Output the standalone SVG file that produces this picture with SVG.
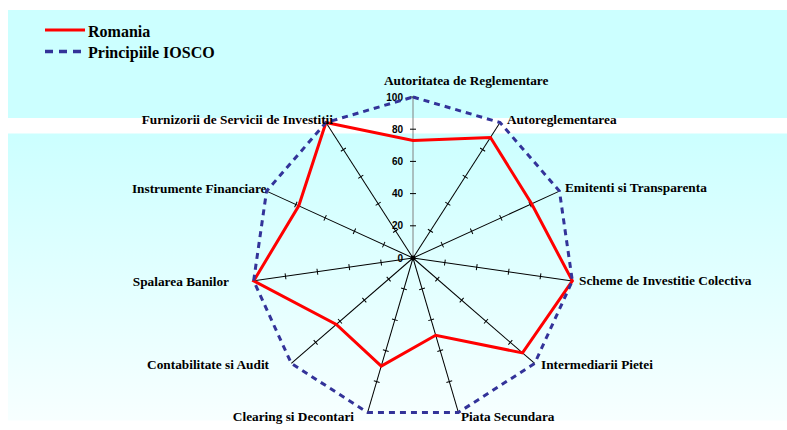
<svg xmlns="http://www.w3.org/2000/svg" xmlns:xlink="http://www.w3.org/1999/xlink" width="787" height="430" viewBox="0 0 787 430">
<style>
.lbl{font-family:"Liberation Serif","Times New Roman",serif;font-weight:bold;font-size:13.3px;fill:#000}
.leg{font-family:"Liberation Serif","Times New Roman",serif;font-weight:bold;font-size:16px;fill:#000}
.num{font-family:"Liberation Sans",Arial,sans-serif;font-weight:bold;font-size:10px;fill:#000;text-anchor:end}
.axis{stroke:#000;stroke-width:1;fill:none}
.romania{stroke:#FF0000;stroke-width:3;fill:none;stroke-linejoin:miter}
.iosco{stroke:#333399;stroke-width:3;fill:none;stroke-dasharray:6 5}
</style>
<defs>
<linearGradient id="bg" x1="0" y1="0" x2="0" y2="1">
<stop offset="0" stop-color="#CCFFFF"/>
<stop offset="1" stop-color="#F7FFFF"/>
</linearGradient>
<g id="ax">
<line x1="0" y1="0" x2="0" y2="-161"/>
<path d="M-3,-32.2H3M-3,-64.4H3M-3,-96.6H3M-3,-128.8H3"/>
</g>
</defs>
<rect x="0" y="0" width="787" height="430" fill="#FFFFFF"/>
<rect x="8" y="10" width="779" height="108" fill="#CCFFFF"/>
<rect x="8" y="133.5" width="779" height="287" fill="url(#bg)"/>

<g id="legend">
<line x1="45" y1="30" x2="85" y2="30" stroke="#FF0000" stroke-width="3"/>
<text class="leg" x="88" y="37">Romania</text>
<line x1="45" y1="51.5" x2="85" y2="51.5" stroke="#333399" stroke-width="3.5" stroke-dasharray="8 6"/>
<text class="leg" x="88" y="58">Principiile IOSCO</text>
</g>

<g id="axes" class="axis">
<use xlink:href="#ax" transform="translate(413,258) rotate(32.727)"/>
<use xlink:href="#ax" transform="translate(413,258) rotate(65.455)"/>
<use xlink:href="#ax" transform="translate(413,258) rotate(98.182)"/>
<use xlink:href="#ax" transform="translate(413,258) rotate(130.909)"/>
<use xlink:href="#ax" transform="translate(413,258) rotate(163.636)"/>
<use xlink:href="#ax" transform="translate(413,258) rotate(196.364)"/>
<use xlink:href="#ax" transform="translate(413,258) rotate(229.091)"/>
<use xlink:href="#ax" transform="translate(413,258) rotate(261.818)"/>
<use xlink:href="#ax" transform="translate(413,258) rotate(294.545)"/>
<use xlink:href="#ax" transform="translate(413,258) rotate(327.273)"/>
<line x1="413" y1="258" x2="413" y2="97" stroke="#808080"/>
<path d="M410,225.8H416M410,193.6H416M410,161.4H416M410,129.2H416M410,97H416"/>
<circle cx="413" cy="258" r="2.5" fill="#000" stroke="none"/>
</g>

<g id="scale">
<text class="num" x="403" y="261.5">0</text>
<text class="num" x="403" y="229.3">20</text>
<text class="num" x="403" y="197.1">40</text>
<text class="num" x="403" y="164.9">60</text>
<text class="num" x="403" y="132.7">80</text>
<text class="num" x="403" y="100.5">100</text>
</g>

<g id="series">
<polygon class="romania" points="413,140.47 490.46,137.45 531.62,203.83 572.36,280.91 522.5,352.9 435.68,335.24 381.25,366.13 336.35,324.43 253.64,280.91 298.77,205.83 325.96,122.55"/>
<polygon class="iosco" points="413,97 500.04,122.55 559.45,191.12 572.36,280.91 534.67,363.44 458.35,412.48 367.65,412.48 291.33,363.44 253.64,280.91 266.55,191.12 325.96,122.55"/>
</g>

<g id="n0"><text class="lbl" x="384" y="85">Autoritatea de Reglementare</text></g>
<g id="n1"><text class="lbl" x="507" y="124">Autoreglementarea</text></g>
<g id="n2"><text class="lbl" x="565" y="192">Emitenti si Transparenta</text></g>
<g id="n3"><text class="lbl" x="579" y="285">Scheme de Investitie Colectiva</text></g>
<g id="n4"><text class="lbl" x="541" y="369">Intermediarii Pietei</text></g>
<g id="n5"><text class="lbl" x="461" y="421">Piata Secundara</text></g>
<g id="n6"><text class="lbl" x="354" y="421" text-anchor="end">Clearing si Decontari</text></g>
<g id="n7"><text class="lbl" x="269" y="369" text-anchor="end">Contabilitate si Audit</text></g>
<g id="n8"><text class="lbl" x="229" y="285.5" text-anchor="end">Spalarea Banilor</text></g>
<g id="n9"><text class="lbl" x="266.5" y="193" text-anchor="end">Instrumente Financiare</text></g>
<g id="n10"><text class="lbl" x="333" y="124" text-anchor="end">Furnizorii de Servicii de Investitii</text></g>
</svg>
